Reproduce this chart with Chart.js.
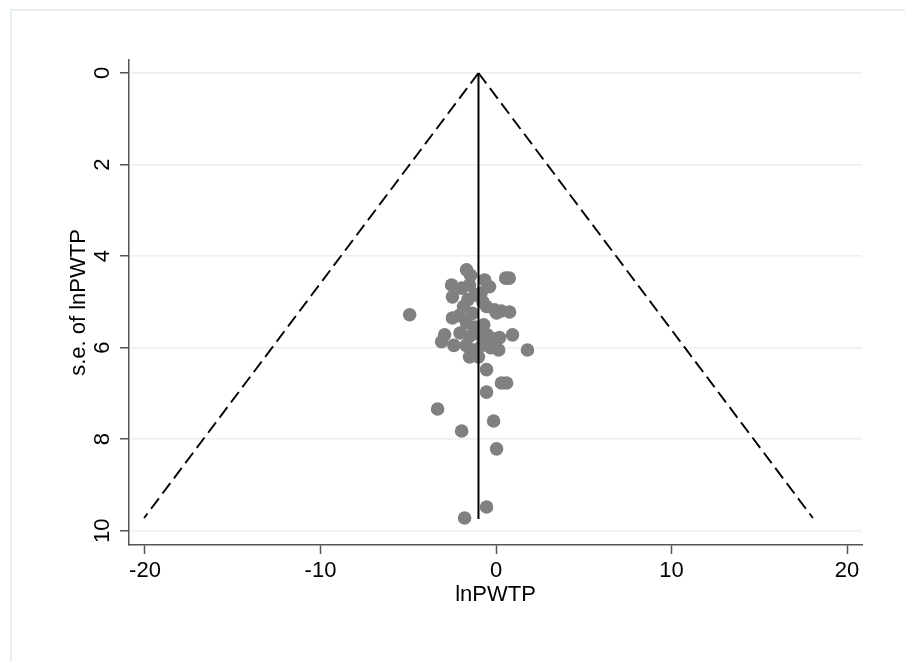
<!DOCTYPE html>
<html><head><meta charset="utf-8">
<script src="https://cdn.jsdelivr.net/npm/chart.js@4/dist/chart.umd.min.js"></script>
<style>html,body{margin:0;padding:0;background:#fff;} #wrap{width:905px;height:662px;position:relative;}</style>
</head><body><div id="wrap"><canvas id="c" width="905" height="662"></canvas></div>
<script>
// Study effects (lnPWTP) and their standard errors
const effectX = [-1.68,-1.45,-2.53,-1.51,-1.95,-0.65,-0.37,-0.85,0.55,0.75,
  -2.48,-1.60,-1.20,-0.75,-0.54,-1.85,-0.08,0.30,0.77,0.03,
  -4.92,-1.35,-2.48,-2.10,-1.68,-1.20,-0.70,-2.05,-2.93,-3.10,
  -1.50,-1.00,-0.50,-0.20,0.20,0.94,-2.40,-1.70,-1.25,-0.80,
  -0.30,0.15,1.79,-1.51,-1.00,-0.54,0.31,0.60,-0.54,-3.33,
  -0.14,-1.96,0.03,-0.54,-1.79];
const seValues = [4.30,4.42,4.63,4.63,4.70,4.52,4.67,4.80,4.48,4.48,
  4.89,4.95,4.85,5.00,5.10,5.10,5.17,5.20,5.22,5.24,
  5.28,5.25,5.35,5.30,5.46,5.55,5.50,5.68,5.72,5.87,
  5.75,5.70,5.72,5.80,5.78,5.72,5.95,5.95,6.05,5.95,
  6.00,6.05,6.05,6.20,6.20,6.48,6.77,6.77,6.97,7.34,
  7.60,7.82,8.21,9.48,9.72];
// Pooled estimate line and pseudo 95% confidence limits
const pooledX = [-1.0, -1.0];
const pooledSE = [0, 9.74];
const funnelLeftX = [-1.0, -20.05];
const funnelRightX = [-1.0, 18.05];
const funnelSE = [0, 9.72];
// Tick labels and titles
const xTicks = [-20, -10, 0, 10, 20];
const yTicks = [0, 2, 4, 6, 8, 10];
const xTitle = 'lnPWTP';
const yTitle = 's.e. of lnPWTP';

const FONT = '"Liberation Sans", Arial, sans-serif';
Chart.defaults.font.family = FONT;

const toPts = (xs, ys) => xs.map((x, i) => ({x: x, y: ys[i]}));

const framePlugin = {
  id: 'frame',
  beforeDraw(chart) {
    const ctx = chart.ctx;
    ctx.save();
    ctx.fillStyle = '#ffffff';
    ctx.fillRect(0, 0, chart.width, chart.height);
    ctx.strokeStyle = '#e8efef';
    ctx.lineWidth = 2;
    ctx.strokeRect(11, 10, chart.width + 20, chart.height + 20);
    ctx.restore();
  }
};

const yLabelPlugin = {
  id: 'yLabels',
  afterDraw(chart) {
    const s = chart.scales.y;
    const ctx = chart.ctx;
    ctx.save();
    ctx.font = '22px ' + FONT;
    ctx.fillStyle = '#000';
    ctx.textAlign = 'center';
    ctx.textBaseline = 'middle';
    yTicks.forEach(v => {
      const y = s.getPixelForValue(v);
      ctx.save();
      ctx.translate(s.right - 26, y);
      ctx.rotate(-Math.PI / 2);
      ctx.fillText(String(v), 0, 0);
      ctx.restore();
    });
    ctx.restore();
  }
};

new Chart(document.getElementById('c'), {
  type: 'scatter',
  data: {
    datasets: [
      {
        type: 'line', data: toPts(pooledX, pooledSE), borderColor: '#000', borderWidth: 2,
        pointRadius: 0, fill: false, order: 0
      },
      {
        type: 'line', data: toPts(funnelLeftX, funnelSE), borderColor: '#000', borderWidth: 1.9,
        borderDash: [13, 6], pointRadius: 0, fill: false, order: 0
      },
      {
        type: 'line', data: toPts(funnelRightX, funnelSE), borderColor: '#000', borderWidth: 1.9,
        borderDash: [13, 6], pointRadius: 0, fill: false, order: 0
      },
      {
        type: 'scatter', data: toPts(effectX, seValues), backgroundColor: '#808080',
        borderColor: '#808080', borderWidth: 0, pointRadius: 6.8, order: 1
      }
    ]
  },
  options: {
    responsive: false,
    animation: false,
    events: [],
    layout: {padding: {top: 60, right: 43, left: 0, bottom: 0}},
    plugins: {legend: {display: false}, tooltip: {enabled: false}},
    scales: {
      x: {
        type: 'linear', position: 'bottom', min: -20.91, max: 20.85,
        afterBuildTicks: s => { s.ticks = xTicks.map(v => ({value: v})); },
        afterFit: s => { s.height = 117; },
        ticks: {color: '#000', font: {size: 22}, padding: 4, maxRotation: 0, autoSkip: false},
        grid: {drawOnChartArea: false, drawTicks: true, tickLength: 9, tickColor: '#555', tickWidth: 1.5},
        border: {color: '#555', width: 1.5},
        title: {display: true, text: xTitle, color: '#000', font: {size: 22}, padding: {top: 0, bottom: 54}}
      },
      y: {
        type: 'linear', reverse: true, min: -0.284, max: 10.31,
        afterBuildTicks: s => { s.ticks = yTicks.map(v => ({value: v})); },
        afterFit: s => { s.width = 129; },
        ticks: {display: false},
        grid: {color: '#e8f0f1', lineWidth: 1.5, drawTicks: true, tickLength: 9, tickColor: '#555', tickWidth: 1.5},
        border: {color: '#555', width: 1.5},
        title: {display: true, text: yTitle, color: '#000', font: {size: 22}, padding: {top: 66, bottom: 0}}
      }
    }
  },
  plugins: [framePlugin, yLabelPlugin]
});
</script>
</body></html>
